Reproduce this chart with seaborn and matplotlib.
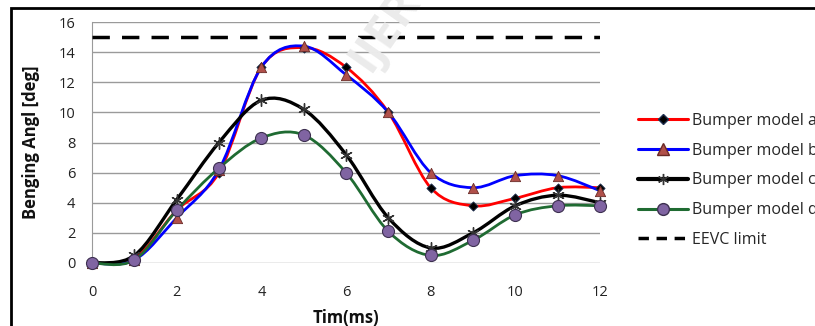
import numpy as np
import pandas as pd
import matplotlib
matplotlib.use("Agg")
import matplotlib.pyplot as plt
import seaborn as sns
from matplotlib.path import Path
from matplotlib.patches import PathPatch, Rectangle
from matplotlib.lines import Line2D

# ---- data ----
time_ms = [0, 1, 2, 3, 4, 5, 6, 7, 8, 9, 10, 11, 12]
model_a = [0, 0.3, 3.5, 6.0, 13.0, 14.3, 13.0, 10.0, 5.0, 3.8, 4.3, 5.0, 5.0]
model_b = [0, 0.2, 3.0, 6.2, 13.0, 14.4, 12.5, 10.0, 6.0, 5.0, 5.8, 5.8, 4.8]
model_c = [0, 0.5, 4.2, 8.0, 10.8, 10.2, 7.2, 3.0, 1.0, 2.0, 3.8, 4.5, 4.0]
model_d = [0, 0.2, 3.5, 6.3, 8.3, 8.5, 6.0, 2.1, 0.5, 1.5, 3.2, 3.8, 3.8]
eevc_limit = 15
labels = ["Bumper model a", "Bumper model b", "Bumper model c", "Bumper model d", "EEVC limit"]

sns.set_style("white")
plt.rcParams['font.family'] = ['Open Sans', 'DejaVu Sans']

fig = plt.figure(figsize=(8.15, 3.26), dpi=100)
ax = fig.add_axes([92/815, 1-263/326, (600-92)/815, (263-22)/326])

def smooth_path(x, y):
    x = np.asarray(x, float); y = np.asarray(y, float)
    n = len(x)
    xp = np.concatenate([[x[0]], x, [x[-1]]])
    yp = np.concatenate([[y[0]], y, [y[-1]]])
    verts = [(x[0], y[0])]
    codes = [Path.MOVETO]
    for i in range(n - 1):
        j = i + 1
        c1 = (xp[j] + (xp[j+1] - xp[j-1]) / 6, yp[j] + (yp[j+1] - yp[j-1]) / 6)
        c2 = (xp[j+1] - (xp[j+2] - xp[j]) / 6, yp[j+1] - (yp[j+2] - yp[j]) / 6)
        verts += [c1, c2, (xp[j+1], yp[j+1])]
        codes += [Path.CURVE4] * 3
    return Path(verts, codes)

series = [
    (model_a, "#ff0000", 2.0, dict(marker="D", s=22, color="black", edgecolor="#1f3050", linewidth=0.6)),
    (model_b, "#0000ff", 2.0, dict(marker="^", s=55, color="#b0504a", edgecolor="#6a2a26", linewidth=0.6)),
    (model_c, "#000000", 2.4, dict(marker=(6, 2, 0), s=70, color="#333333", linewidth=1.0)),
    (model_d, "#1f6b32", 2.0, dict(marker="o", s=75, color="#8064a2", edgecolor="#3d3050", linewidth=0.8)),
]

for vals, col, lw, mk in series:
    ax.add_patch(PathPatch(smooth_path(time_ms, vals), fill=False, edgecolor=col,
                           linewidth=lw, zorder=3, clip_on=False))
for vals, col, lw, mk in series:
    df = pd.DataFrame({"t": time_ms, "v": vals})
    sns.scatterplot(data=df, x="t", y="v", ax=ax, zorder=4, clip_on=False, legend=False, **mk)

lim_df = pd.DataFrame({"t": [time_ms[0], time_ms[-1]], "v": [eevc_limit, eevc_limit]})
sns.lineplot(data=lim_df, x="t", y="v", ax=ax, color="black", linewidth=2.5,
             dashes=False, zorder=3)
ax.lines[-1].set_dashes([5, 3.5])

ax.set_xlim(0, 12)
ax.set_ylim(0, 16)
ax.set_xticks(range(0, 13, 2))
ax.set_yticks(range(0, 17, 2))
ax.yaxis.grid(True, color="#9a9a9a", linewidth=1.0)
ax.xaxis.grid(False)
for s in ["top", "right", "bottom"]:
    ax.spines[s].set_visible(False)
ax.spines["left"].set_color("#9a9a9a")
ax.tick_params(axis="x", length=0, pad=16, labelsize=10.5, colors="#222222")
ax.tick_params(axis="y", length=0, pad=12, labelsize=10.5, colors="#222222")
ax.set_xlabel("Tim(ms)", fontsize=12, fontweight="bold", color="#111111")
ax.set_ylabel("Benging Angl [deg]", fontsize=12, fontweight="bold", color="#111111")
ax.xaxis.set_label_coords(0.5, -0.19)
ax.yaxis.set_label_coords(-0.103, 0.5)

handles = [
    Line2D([], [], color="#ff0000", lw=2.2, marker="D", markersize=5, markerfacecolor="black", markeredgecolor="#1f3050"),
    Line2D([], [], color="#0000ff", lw=2.2, marker="^", markersize=8, markerfacecolor="#b0504a", markeredgecolor="#6a2a26"),
    Line2D([], [], color="black", lw=3.0, marker=(6, 2, 0), markersize=8, markeredgecolor="#333333"),
    Line2D([], [], color="#1f6b32", lw=2.2, marker="o", markersize=8.5, markerfacecolor="#8064a2", markeredgecolor="#3d3050"),
    Line2D([], [], color="black", lw=2.5, dashes=[3, 2.2]),
]
fig.legend(handles, labels, loc="upper left", bbox_to_anchor=(638/815, 1-113/326),
           frameon=False, fontsize=11.5, handlelength=3.1, handletextpad=0.25,
           labelspacing=0.86, borderpad=0, borderaxespad=0)

fig.text(340/815, 1-80/326, "IJERT", fontsize=34, color="#ebebeb", rotation=55,
         ha="left", va="bottom", fontweight="bold", zorder=0)

fig.patches.append(Rectangle((11/815, -0.2), 1.2, 1 - 8/326 + 0.2, transform=fig.transFigure,
                             fill=False, edgecolor="black", linewidth=2, clip_on=False))

fig.savefig("out.png", dpi=100)
